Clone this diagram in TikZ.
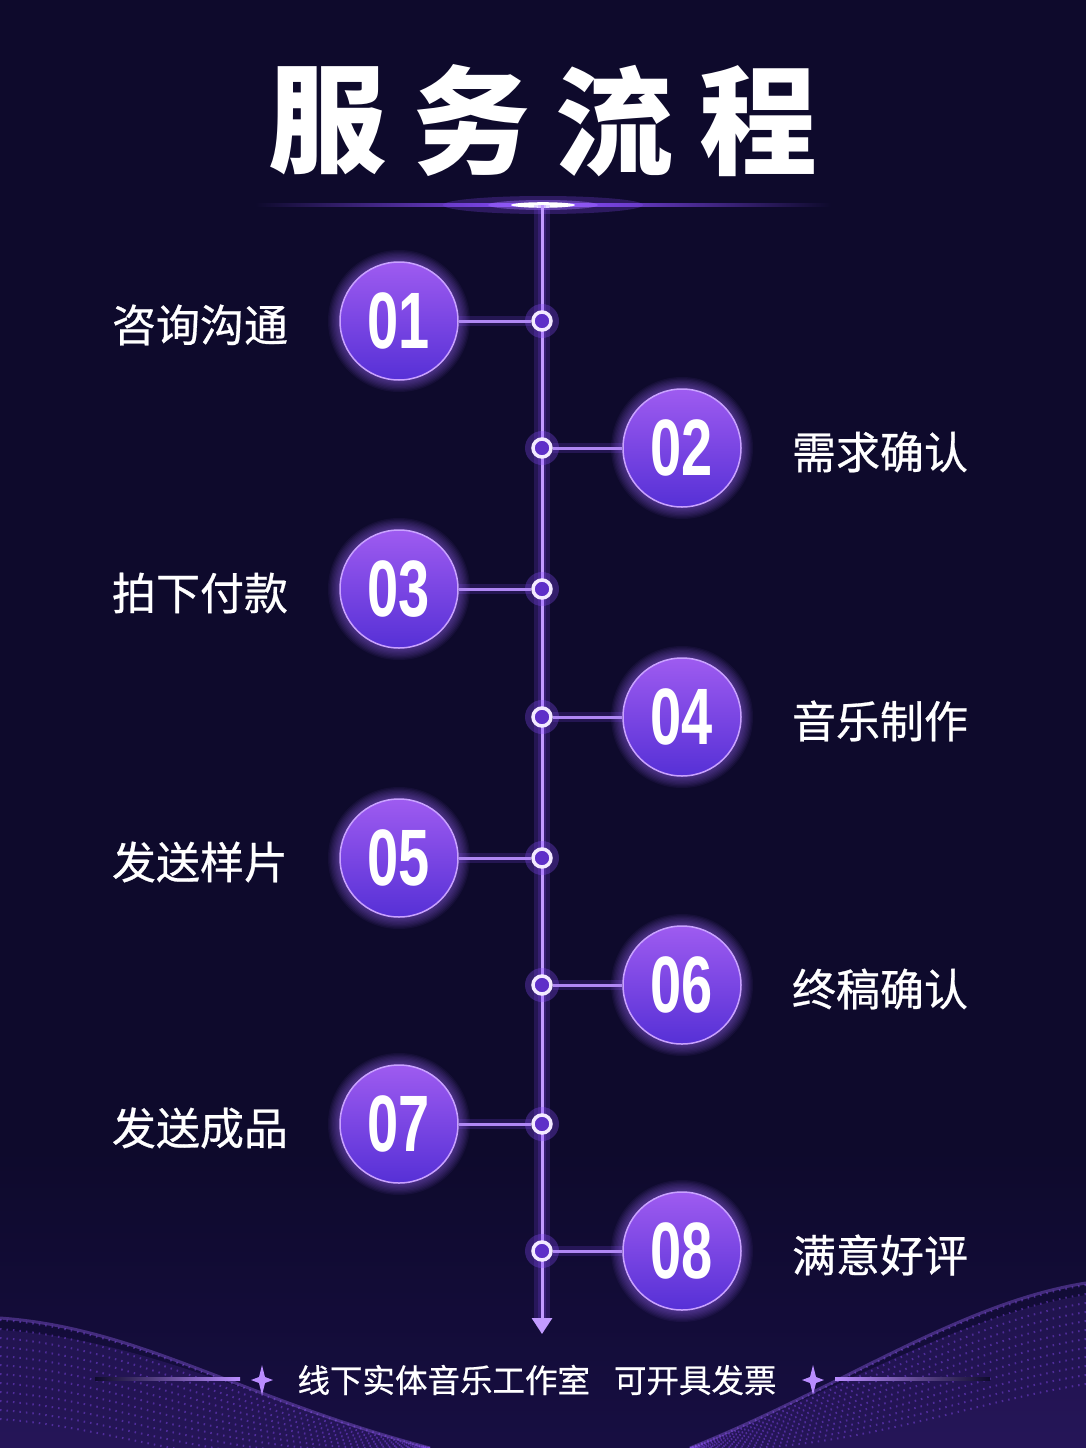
\documentclass[tikz,border=0pt]{standalone}
\usepackage{fontspec}
\usepackage{graphicx}
\newfontfamily\cjk{Noto Sans CJK SC}
\newfontfamily\cjkmid{Noto Sans CJK SC}[FakeBold=0.6]
\newfontfamily\numfont{Liberation Sans}
\usetikzlibrary{arrows.meta}
\definecolor{bg}{HTML}{0E0A2C}
\definecolor{bgbot}{HTML}{170E42}
\definecolor{circtop}{HTML}{9E5BF0}
\definecolor{circbot}{HTML}{5630D6}
\definecolor{circedge}{HTML}{C9A2FF}
\definecolor{glowc}{HTML}{8A4DFF}
\definecolor{haloc}{HTML}{A06AFF}
\definecolor{spinec}{HTML}{C29BFF}
\definecolor{connc}{HTML}{B088F4}
\definecolor{ringfill}{HTML}{5E2FC8}
\definecolor{ringedge}{HTML}{F3EAFF}
\definecolor{wavec}{HTML}{7B45E0}
\definecolor{starc}{HTML}{B98CFF}
\begin{document}
\begin{tikzpicture}[x=1pt,y=-1pt,
  stepcircle/.style={circle, minimum size=118pt, inner sep=0pt, top color=circtop, bottom color=circbot, draw=circedge, line width=1.5pt, text=white},
  ring/.style={circle, minimum size=18pt, inner sep=0pt, fill=ringfill, draw=ringedge, line width=3.5pt},
  lab/.style={text=white, font=\cjkmid\fontsize{44}{48}\selectfont, inner sep=0pt},
  titlech/.style={text=white, font=\cjk\bfseries\fontsize{118}{120}\selectfont, inner sep=0pt},
  conn/.style={draw=connc, line width=3pt},
  connglow/.style={draw=glowc, line width=10pt, opacity=0.18},
  spineglow/.style={draw=glowc, opacity=0.18},
  foot/.style={text=white, font=\cjkmid\fontsize{32.5}{36}\selectfont, inner sep=0pt}
]
% background
\fill[bg] (0,0) rectangle (1086,1448);
\useasboundingbox (0,0) rectangle (1086,1448);
\shade[top color=bg, bottom color=bgbot] (0,1150) rectangle (1086,1448);
% bottom waves
\fill[wavec, opacity=0.14] (0,1330) .. controls (150,1340) and (250,1400) .. (430,1448) -- (0,1448) -- cycle;
\fill[wavec, opacity=0.14] (1086,1295) .. controls (960,1315) and (840,1390) .. (690,1448) -- (1086,1448) -- cycle;
\foreach \i in {0,...,11}{
  \draw[wavec, opacity=0.5, line width=2pt, dash pattern=on 1.5pt off 5pt]
    (0,{1320+9*\i}) .. controls (140,{1330+9*\i}) and (240,{1400+8*\i}) .. (430,1448);
  \draw[wavec, opacity=0.5, line width=2pt, dash pattern=on 1.5pt off 5pt]
    (1086,{1285+9*\i}) .. controls (960,{1305+9*\i}) and (840,{1390+6*\i}) .. (690,1448);
}
\draw[haloc, opacity=0.35, line width=3pt] (0,1318) .. controls (140,1328) and (240,1398) .. (430,1448);
\draw[haloc, opacity=0.35, line width=3pt] (1086,1283) .. controls (960,1303) and (840,1388) .. (690,1448);
% title
\node[titlech] (t1) at (327,121) {服};
\node[titlech] (t2) at (471,121) {务};
\node[titlech] (t3) at (614,121) {流};
\node[titlech] (t4) at (758,121) {程};
% top horizontal light line
\shade[left color=bg, right color=glowc] (255,203.5) rectangle (543,206.5);
\shade[left color=glowc, right color=bg] (543,203.5) rectangle (831,206.5);
\fill[glowc, opacity=0.25] (543,205) ellipse (100 and 9);
\fill[haloc, opacity=0.45] (543,205) ellipse (55 and 5);
\fill[white] (543,205) ellipse (32 and 2.8);
% spine
\coordinate (top) at (542,205);
\coordinate (bot) at (542,1334);
\coordinate (botglow) at (542,1318);
\draw[spineglow, line width=16pt] (top) -- (botglow);
\draw[spineglow, line width=8pt] (top) -- (botglow);
\draw[spinec, line width=3pt, -{Triangle[width=20pt,length=16pt]}] (top) -- (bot);
% steps
\foreach \n/\y/\cx/\lx/\t in {
  01/321/399/200/咨询沟通,
  02/448/682/880/需求确认,
  03/589/399/200/拍下付款,
  04/717/682/880/音乐制作,
  05/858/399/200/发送样片,
  06/985/682/880/终稿确认,
  07/1124/399/200/发送成品,
  08/1251/682/880/满意好评}{
  \foreach \k in {1,...,10}{
    \fill[haloc, opacity=0.06] (\cx,\y) circle ({58+1.3*\k});
  }
  \fill[glowc, opacity=0.3] (542,\y) circle (17);
  \node[stepcircle] (c\n) at (\cx,\y) {\numfont\bfseries\fontsize{80}{80}\selectfont\scalebox{0.7}[1]{\n}};
  \node[ring] (r\n) at (542,\y) {};
  \draw[connglow] (c\n) -- (r\n);
  \draw[conn] (c\n) -- (r\n);
  \node[lab] (l\n) at (\lx,\y+4) {\t};
}
% footer
\node[foot] (ft) at (537,1380) {线下实体音乐工作室\hspace{24pt}可开具发票};
\shade[left color=bg, right color=starc] (95,1377.5) rectangle (240,1380.5);
\shade[left color=starc, right color=bg] (835,1377.5) rectangle (990,1380.5);
\fill[starc] (262,1365) -- (265,1377) -- (273,1380) -- (265,1383) -- (262,1395) -- (259,1383) -- (251,1380) -- (259,1377) -- cycle;
\fill[starc] (813,1365) -- (816,1377) -- (824,1380) -- (816,1383) -- (813,1395) -- (810,1383) -- (802,1380) -- (810,1377) -- cycle;
\end{tikzpicture}
\end{document}
